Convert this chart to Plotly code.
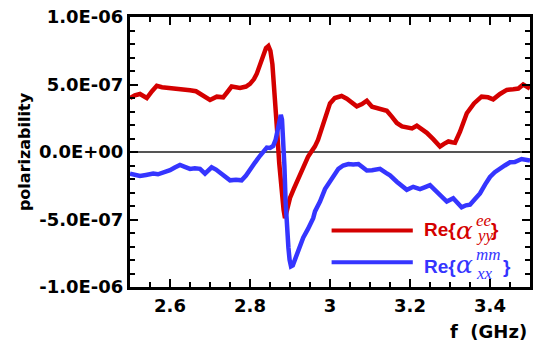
import plotly.graph_objects as go

# Re{alpha_yy^ee}, values in units of 1e-7
freq_ee = [2.5, 2.512, 2.525, 2.535, 2.542, 2.555, 2.567, 2.58, 2.6, 2.625, 2.65, 2.665, 2.675, 2.69,
           2.7, 2.717, 2.733, 2.745, 2.754, 2.775, 2.79, 2.8, 2.81, 2.817, 2.825, 2.833, 2.84, 2.846,
           2.851, 2.856, 2.8625, 2.868, 2.873, 2.879, 2.884, 2.8875, 2.892, 2.9, 2.91, 2.917, 2.925,
           2.933, 2.945, 2.954, 2.962, 2.97, 2.983, 2.992, 3.0, 3.012, 3.029, 3.042, 3.055, 3.067,
           3.08, 3.092, 3.105, 3.117, 3.13, 3.142, 3.155, 3.167, 3.18, 3.192, 3.205, 3.217, 3.23,
           3.242, 3.258, 3.275, 3.285, 3.296, 3.305, 3.3125, 3.325, 3.342, 3.36, 3.379, 3.395, 3.408,
           3.425, 3.442, 3.458, 3.471, 3.483, 3.492, 3.5]
re_ee = [4.0, 4.2, 4.3, 4.1, 4.0, 4.5, 4.9, 4.8, 4.75, 4.65, 4.57, 4.5, 4.3, 4.1,
         3.85, 4.1, 4.05, 4.5, 4.85, 4.75, 4.85, 5.05, 5.4, 5.8, 6.4, 7.2, 7.7, 7.85,
         7.5, 6.5, 4.2, 1.5, -0.8, -2.95, -4.3, -4.9, -4.2, -3.4, -2.7, -2.2, -1.6,
         -1.0, -0.35, 0.05, 0.4, 0.9, 2.15, 2.9, 3.6, 4.0, 4.15, 3.95, 3.6, 3.38,
         3.55, 3.8, 3.35, 3.25, 3.2, 3.05, 2.6, 2.15, 1.9, 1.8, 1.75, 1.95, 1.7,
         1.42, 0.95, 0.4, 0.6, 0.78, 0.72, 0.69, 1.5, 2.87, 3.6, 4.1, 4.05, 3.9,
         4.3, 4.6, 4.65, 4.7, 5.0, 4.85, 4.7]

# Re{alpha_xx^mm}, values in units of 1e-7
freq_mm = [2.5, 2.512, 2.525, 2.54, 2.558, 2.57, 2.583, 2.6, 2.612, 2.625, 2.637, 2.65, 2.662, 2.675,
           2.6875, 2.704, 2.715, 2.725, 2.738, 2.75, 2.765, 2.779, 2.79, 2.8, 2.812, 2.825, 2.835,
           2.842, 2.85, 2.858, 2.864, 2.869, 2.874, 2.877, 2.88, 2.883, 2.886, 2.889, 2.892, 2.896,
           2.899, 2.9025, 2.907, 2.912, 2.917, 2.925, 2.933, 2.945, 2.958, 2.9625, 2.975, 2.9875,
           2.998, 3.008, 3.021, 3.033, 3.046, 3.058, 3.071, 3.08, 3.092, 3.105, 3.115, 3.125, 3.14,
           3.15, 3.167, 3.18, 3.192, 3.208, 3.225, 3.238, 3.25, 3.262, 3.275, 3.292, 3.308, 3.318,
           3.329, 3.34, 3.35, 3.362, 3.375, 3.388, 3.4, 3.412, 3.425, 3.437, 3.45, 3.462, 3.479,
           3.49, 3.5]
re_mm = [-1.6, -1.7, -1.78, -1.7, -1.6, -1.65, -1.55, -1.35, -1.15, -0.96, -1.1, -1.25, -1.2, -1.25,
         -1.6, -1.13, -1.3, -1.5, -1.8, -2.1, -2.05, -2.1, -1.75, -1.25, -0.8, -0.28, 0.1,
         0.33, 0.3, 0.45, 0.9, 1.6, 2.4, 2.75, 2.4, 1.2, -1.0, -3.67, -5.5, -7.07,
         -8.0, -8.47, -8.4, -8.0, -7.55, -6.9, -6.34, -5.7, -4.9, -4.4, -3.67, -2.75,
         -2.3, -1.85, -1.25, -1.0, -0.89, -0.92, -0.89, -1.1, -1.37, -1.35, -1.3, -1.25, -1.55,
         -1.73, -2.2, -2.55, -2.8, -2.58, -2.75, -2.6, -2.46, -2.8, -3.19, -3.67, -3.43, -3.8,
         -4.1, -3.95, -3.9, -3.5, -3.07, -2.4, -1.85, -1.5, -1.2, -1.0, -0.76, -0.75, -0.52,
         -0.55, -0.64]

UNIT = 1e-7

x_tickvals = [2.6, 2.8, 3.0, 3.2, 3.4]
x_ticktext = ["2.6", "2.8", "3", "3.2", "3.4"]
y_tickvals = [-1e-6, -5e-7, 0, 5e-7, 1e-6]
y_ticktext = ["-1.0E-06", "-5.0E-07", "0.0E+00", "5.0E-07", "1.0E-06"]

RED = "#d40000"
BLUE = "#3535ff"
FONT = "DejaVu Sans"
LEG_FONT = "Liberation Sans"
MATH_FONT = "Liberation Serif"
ALPHA_FONT = "DejaVu Serif"

fig = go.Figure()
fig.add_trace(go.Scatter(x=freq_ee, y=[v * UNIT for v in re_ee], mode="lines",
                         line=dict(color=RED, width=4.5), showlegend=False))
fig.add_trace(go.Scatter(x=freq_mm, y=[v * UNIT for v in re_mm], mode="lines",
                         line=dict(color=BLUE, width=4.5), showlegend=False))

axis_common = dict(
    showline=True, linecolor="black", linewidth=3, mirror="ticks",
    ticks="inside", ticklen=8, tickwidth=2, tickcolor="black",
    showgrid=False,
    tickfont=dict(family=FONT, size=18, color="black", weight="bold"),
)

fig.update_xaxes(range=[2.5, 3.5], tickvals=x_tickvals, ticktext=x_ticktext, zeroline=False,
                 minor=dict(ticks="inside", ticklen=5, tickwidth=1.5, dtick=0.05, tick0=2.5,
                            tickcolor="black"),
                 **axis_common)
fig.update_yaxes(range=[-1e-6, 1e-6], tickvals=y_tickvals, ticktext=y_ticktext,
                 zeroline=True, zerolinecolor="#555555", zerolinewidth=1.5,
                 minor=dict(ticks="inside", ticklen=5, tickwidth=1.5, dtick=1e-7, tick0=0,
                            tickcolor="black"),
                 title=dict(text="polarizability", standoff=5,
                            font=dict(family=FONT, size=16, color="black", weight="bold")),
                 **axis_common)

annotations = [
    dict(text="f  (GHz)", x=0.997, y=-0.165, xref="paper", yref="paper", xanchor="right",
         yanchor="middle", showarrow=False,
         font=dict(family=FONT, size=18, color="black", weight="bold")),
]

# legend keys and labels: (key y, colour, sup, sub, text y, alpha y, sup y, sub y, brace x)
legend_rows = [
    (0.2097, RED, "ee", "yy", 0.2127, 0.211, 0.246, 0.190, 0.898),
    (0.0920, BLUE, "mm", "xx", 0.0745, 0.0836, 0.122, 0.049, 0.9275),
]
shapes = []
for key_y, col, sup, sub, text_y, alpha_y, sup_y, sub_y, brace_x in legend_rows:
    shapes.append(dict(type="line", xref="paper", yref="paper", x0=0.504, x1=0.707,
                       y0=key_y, y1=key_y, line=dict(color=col, width=4)))
    annotations += [
        dict(text="Re{", x=0.73, y=text_y, xref="paper", yref="paper", xanchor="left",
             yanchor="middle", showarrow=False,
             font=dict(family=LEG_FONT, size=19, color=col, weight="bold")),
        dict(text="<i>α</i>", x=0.809, y=alpha_y, xref="paper", yref="paper", xanchor="left",
             yanchor="middle", showarrow=False,
             font=dict(family=ALPHA_FONT, size=25, color=col)),
        dict(text="<i>" + sup + "</i>", x=0.86, y=sup_y, xref="paper", yref="paper",
             xanchor="left", yanchor="middle", showarrow=False,
             font=dict(family=MATH_FONT, size=17, color=col)),
        dict(text="<i>" + sub + "</i>", x=0.86, y=sub_y, xref="paper", yref="paper",
             xanchor="left", yanchor="middle", showarrow=False,
             font=dict(family=MATH_FONT, size=17, color=col)),
        dict(text="}", x=brace_x, y=text_y, xref="paper", yref="paper", xanchor="left",
             yanchor="middle", showarrow=False,
             font=dict(family=LEG_FONT, size=19, color=col, weight="bold")),
    ]

fig.update_layout(
    width=539, height=346,
    margin=dict(l=130, r=6, t=12, b=59),
    paper_bgcolor="white", plot_bgcolor="white",
    annotations=annotations, shapes=shapes,
    showlegend=False,
)

fig.write_html("out.html")
